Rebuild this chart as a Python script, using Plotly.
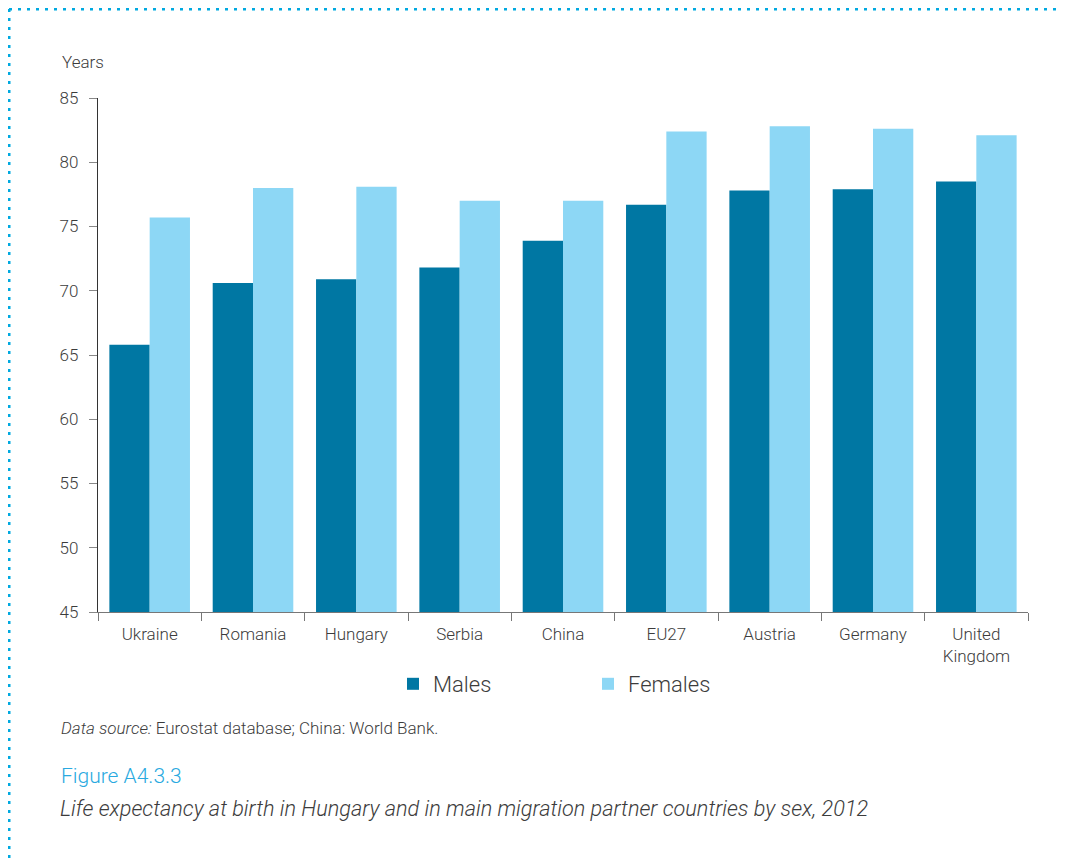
import plotly.graph_objects as go

categories = ["Ukraine", "Romania", "Hungary", "Serbia", "China", "EU27", "Austria", "Germany", "United<br>Kingdom"]
males = [65.8, 70.6, 70.9, 71.8, 73.9, 76.7, 77.8, 77.9, 78.5]
females = [75.7, 78.0, 78.1, 77.0, 77.0, 82.4, 82.8, 82.6, 82.1]
y_ticks = [45, 50, 55, 60, 65, 70, 75, 80, 85]

FONT = "Roboto, sans-serif"
TXT = "#3c3c3c"
OFF = 8  # page body margin offset

fig = go.Figure()
fig.add_trace(go.Bar(name="Males", x=categories, y=males, marker=dict(color="#0077A3", line=dict(width=0))))
fig.add_trace(go.Bar(name="Females", x=categories, y=females, marker=dict(color="#8DD7F5", line=dict(width=0))))

W, H = 1065 - OFF, 861 - OFF
L, T = 98 - OFF, 98 - OFF
R = W - (1028 - OFF)
B = H - (612 - OFF)
pw, ph = W - L - R, H - T - B

def px(x):
    return (x - OFF - L) / pw

def py(y):
    return (H - B - (y - OFF)) / ph

fig.update_layout(
    width=W, height=H,
    margin=dict(l=L, r=R, t=T, b=B, autoexpand=False),
    paper_bgcolor="white", plot_bgcolor="white",
    barmode="group", bargap=0.22, bargroupgap=0,
    font=dict(family=FONT, color=TXT, size=17, weight=300),
    showlegend=True,
    legend=dict(orientation="h", x=px(393), y=py(663), xanchor="left", yanchor="top",
                font=dict(size=22, color=TXT, family=FONT, weight=300), entrywidth=150, entrywidthmode="pixels",
                itemsizing="constant", traceorder="normal"),
    xaxis=dict(showline=True, linecolor="#777", linewidth=1.3, ticks="outside", tickson="boundaries",
               ticklen=8, tickcolor="#777", tickfont=dict(size=17, color=TXT, family=FONT, weight=300),
               showgrid=False, ticklabelstandoff=6),
    yaxis=dict(range=[45, 85], tickvals=y_ticks, showline=True, linecolor="#333", linewidth=1.3,
               ticks="outside", ticklen=8, tickcolor="#888", showgrid=False, zeroline=False,
               tickfont=dict(size=17, color=TXT, family=FONT, weight=300), ticklabelstandoff=7),
)

fig.add_annotation(text="Years", xref="paper", yref="paper", x=px(60), y=py(62), xanchor="left", yanchor="middle",
                   showarrow=False, font=dict(size=17, color=TXT, family=FONT, weight=300))
fig.add_annotation(text="<i>Data source:</i> Eurostat database; China: World Bank.", xref="paper", yref="paper",
                   x=px(59), y=py(728), xanchor="left", yanchor="middle", showarrow=False,
                   font=dict(size=17, color=TXT, family=FONT, weight=300))
fig.add_annotation(text="Figure A4.3.3", xref="paper", yref="paper", x=px(59), y=py(776), xanchor="left",
                   yanchor="middle", showarrow=False, font=dict(size=21, color="#29A9E0", family=FONT, weight=300))
fig.add_annotation(text="<i>Life expectancy at birth in Hungary and in main migration partner countries by sex, 2012</i>",
                   xref="paper", yref="paper", x=px(58), y=py(808), xanchor="left", yanchor="middle",
                   showarrow=False, font=dict(size=21.7, color=TXT, family=FONT, weight=300))

# dotted frame (top and left)
dot = dict(color="#00A9E0", width=3, dash="3px,6px")
fig.add_shape(type="line", xref="paper", yref="paper", x0=px(9), y0=py(9), x1=px(1070), y1=py(9), line=dot)
fig.add_shape(type="line", xref="paper", yref="paper", x0=px(9), y0=py(9), x1=px(9), y1=py(870), line=dot)

fig.write_html("out.html")
